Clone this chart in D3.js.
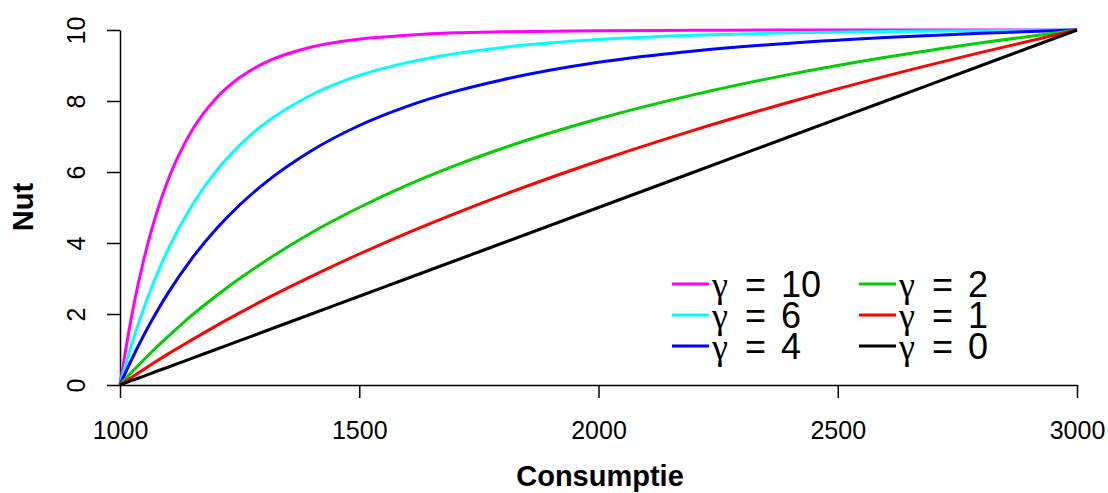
<!DOCTYPE html>
<html>
<head>
<meta charset="utf-8">
<script src="https://cdn.jsdelivr.net/npm/d3@7"></script>
<style>
  html, body { margin: 0; padding: 0; background: #fff; }
  svg { display: block; font-family: "Liberation Sans", Arial, sans-serif; }
</style>
</head>
<body>
<div id="chart"></div>
<script>
const consumptie = [1000, 1025, 1050, 1075, 1100, 1150, 1200, 1250, 1300, 1400,
                    1500, 1600, 1700, 1800, 2000, 2200, 2400, 2600, 2800, 3000];

const nutG10 = [0, 1.99, 3.55, 4.78, 5.76, 7.16, 8.06, 8.66, 9.06, 9.52,
                9.74, 9.85, 9.92, 9.95, 9.98, 9.99, 10, 10, 10, 10];
const nutG6  = [0, 1.17, 2.17, 3.05, 3.81, 5.05, 6.01, 6.75, 7.34, 8.17,
                8.72, 9.08, 9.33, 9.51, 9.73, 9.85, 9.92, 9.96, 9.98, 10];
const nutG4  = [0, 0.74, 1.41, 2.02, 2.58, 3.56, 4.38, 5.07, 5.66, 6.60,
                7.31, 7.85, 8.27, 8.60, 9.09, 9.41, 9.63, 9.79, 9.91, 10];
const nutG2  = [0, 0.37, 0.71, 1.05, 1.36, 1.96, 2.50, 3.00, 3.46, 4.29,
                5.00, 5.63, 6.18, 6.67, 7.50, 8.18, 8.75, 9.23, 9.64, 10];
const nutG1  = [0, 0.22, 0.44, 0.66, 0.87, 1.27, 1.66, 2.03, 2.39, 3.06,
                3.69, 4.28, 4.83, 5.35, 6.31, 7.18, 7.97, 8.70, 9.37, 10];
const nutG0  = [0, 0.13, 0.25, 0.38, 0.50, 0.75, 1.00, 1.25, 1.50, 2.00,
                2.50, 3.00, 3.50, 4.00, 5.00, 6.00, 7.00, 8.00, 9.00, 10];

const gammas  = ['10', '6', '4', '2', '1', '0'];
const kleuren = ['#ff00ff', '#00ffff', '#0000ff', '#00cd00', '#ff0000', '#000000'];
const reeksen = [nutG10, nutG6, nutG4, nutG2, nutG1, nutG0];

const xTicks = [1000, 1500, 2000, 2500, 3000];
const yTicks = [0, 2, 4, 6, 8, 10];

const W = 1108, H = 493;

const svg = d3.select('#chart').append('svg')
  .attr('width', W).attr('height', H);

const x = d3.scaleLinear().domain([1000, 3000]).range([120, 1077]);
const y = d3.scaleLinear().domain([0, 10]).range([385, 30]);

// -- axes ------------------------------------------------------------------
const gx = svg.append('g')
  .attr('transform', `translate(0,${y(0)})`)
  .call(d3.axisBottom(x).tickValues(xTicks).tickSize(13).tickSizeOuter(0)
    .tickFormat(d3.format('d')));

gx.selectAll('text')
  .attr('y', 54).attr('dy', 0)
  .style('font-size', '25px').attr('fill', '#000');

const gy = svg.append('g')
  .attr('transform', `translate(${x(1000)},0)`)
  .call(d3.axisLeft(y).tickValues(yTicks).tickSize(13).tickSizeOuter(0));

// R style: labels parallel to the axis
gy.selectAll('text')
  .attr('x', 0).attr('dy', 0)
  .attr('text-anchor', 'middle')
  .attr('transform', 'translate(-35,0) rotate(-90)')
  .style('font-size', '25px').attr('fill', '#000');

svg.selectAll('.domain, .tick line')
  .attr('stroke', '#000').attr('stroke-width', 1.5);

// -- axis titles -----------------------------------------------------------
svg.append('text')
  .attr('x', 600).attr('y', 486)
  .attr('text-anchor', 'middle')
  .style('font-size', '29px').style('font-weight', 'bold')
  .text('Consumptie');

svg.append('text')
  .attr('transform', 'translate(33,207) rotate(-90)')
  .attr('text-anchor', 'middle')
  .style('font-size', '29px').style('font-weight', 'bold')
  .text('Nut');

// -- curves ----------------------------------------------------------------
const line = d3.line()
  .x(d => x(d[0]))
  .y(d => y(d[1]))
  .curve(d3.curveMonotoneX);

svg.append('g').selectAll('path')
  .data(reeksen)
  .join('path')
  .attr('d', r => line(consumptie.map((c, i) => [c, r[i]])))
  .attr('fill', 'none')
  .attr('stroke', (r, i) => kleuren[i])
  .attr('stroke-width', 3);

// -- legend (two columns of three, rows packed tight like R's y.intersp) ---
const leg = svg.append('g');
gammas.forEach((g, i) => {
  const col = Math.floor(i / 3), row = i % 3;
  const lx = 672 + col * 187, ly = 284 + row * 31;
  leg.append('line')
    .attr('x1', lx).attr('x2', lx + 37)
    .attr('y1', ly).attr('y2', ly)
    .attr('stroke', kleuren[i]).attr('stroke-width', 3);
  const t = leg.append('text')
    .attr('x', lx + 40).attr('y', ly + 13)
    .style('font-size', '36px');
  t.append('tspan')
    .style('font-family', '"Liberation Serif", serif')
    .text('\u03b3');
  t.append('tspan').attr('dx', 17).text('=');
  t.append('tspan').attr('dx', 15).text(g);
});
</script>
</body>
</html>
